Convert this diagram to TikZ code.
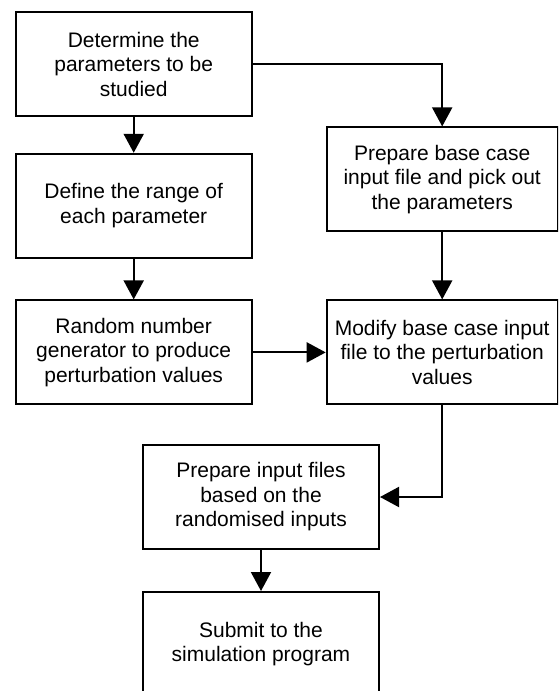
\documentclass[tikz,border=0pt]{standalone}
\usepackage{fontspec}
\setmainfont{Liberation Sans}
\usetikzlibrary{arrows.meta}

\begin{document}
\begin{tikzpicture}[x=1pt,y=-1pt,
  box/.style={draw, line width=2pt, minimum width=236pt, minimum height=104pt,
    inner sep=0pt, align=center, font=\fontsize{21}{24.5}\selectfont},
  sidebox/.style={box, minimum width=231pt},
  link/.style={line width=2pt, -{Triangle[length=19pt,width=20pt]}}]
\useasboundingbox (0,0) rectangle (558,691);
\clip (0,0) rectangle (558,691);
% left column
\node[box] (study) at (133.7,64.2) {Determine the\\parameters to be\\studied};
\node[box] (range) at (133.7,205.8) {Define the range of\\each parameter};
\node[box] (rand) at (133.7,352.4) {Random number\\generator to produce\\perturbation values};
% right column
\node[sidebox] (base) at (442.2,179.4) {Prepare base case\\input file and pick out\\the parameters};
\node[sidebox] (modify) at (442.2,352.4) {Modify base case input\\file to the perturbation\\values};
% bottom
\node[box] (inputs) at (261,497) {Prepare input files\\based on the\\randomised inputs};
\node[box] (submit) at (261,644) {Submit to the\\simulation program};
\draw[link] (study) -- (range);
\draw[link] (range) -- (rand);
\draw[link] (study.east) -| (base.north);
\draw[link] (base) -- (modify);
\draw[link] (rand) -- (modify);
\draw[link] (modify.south) |- (inputs.east);
\draw[link] (inputs) -- (submit);
\end{tikzpicture}
\end{document}
